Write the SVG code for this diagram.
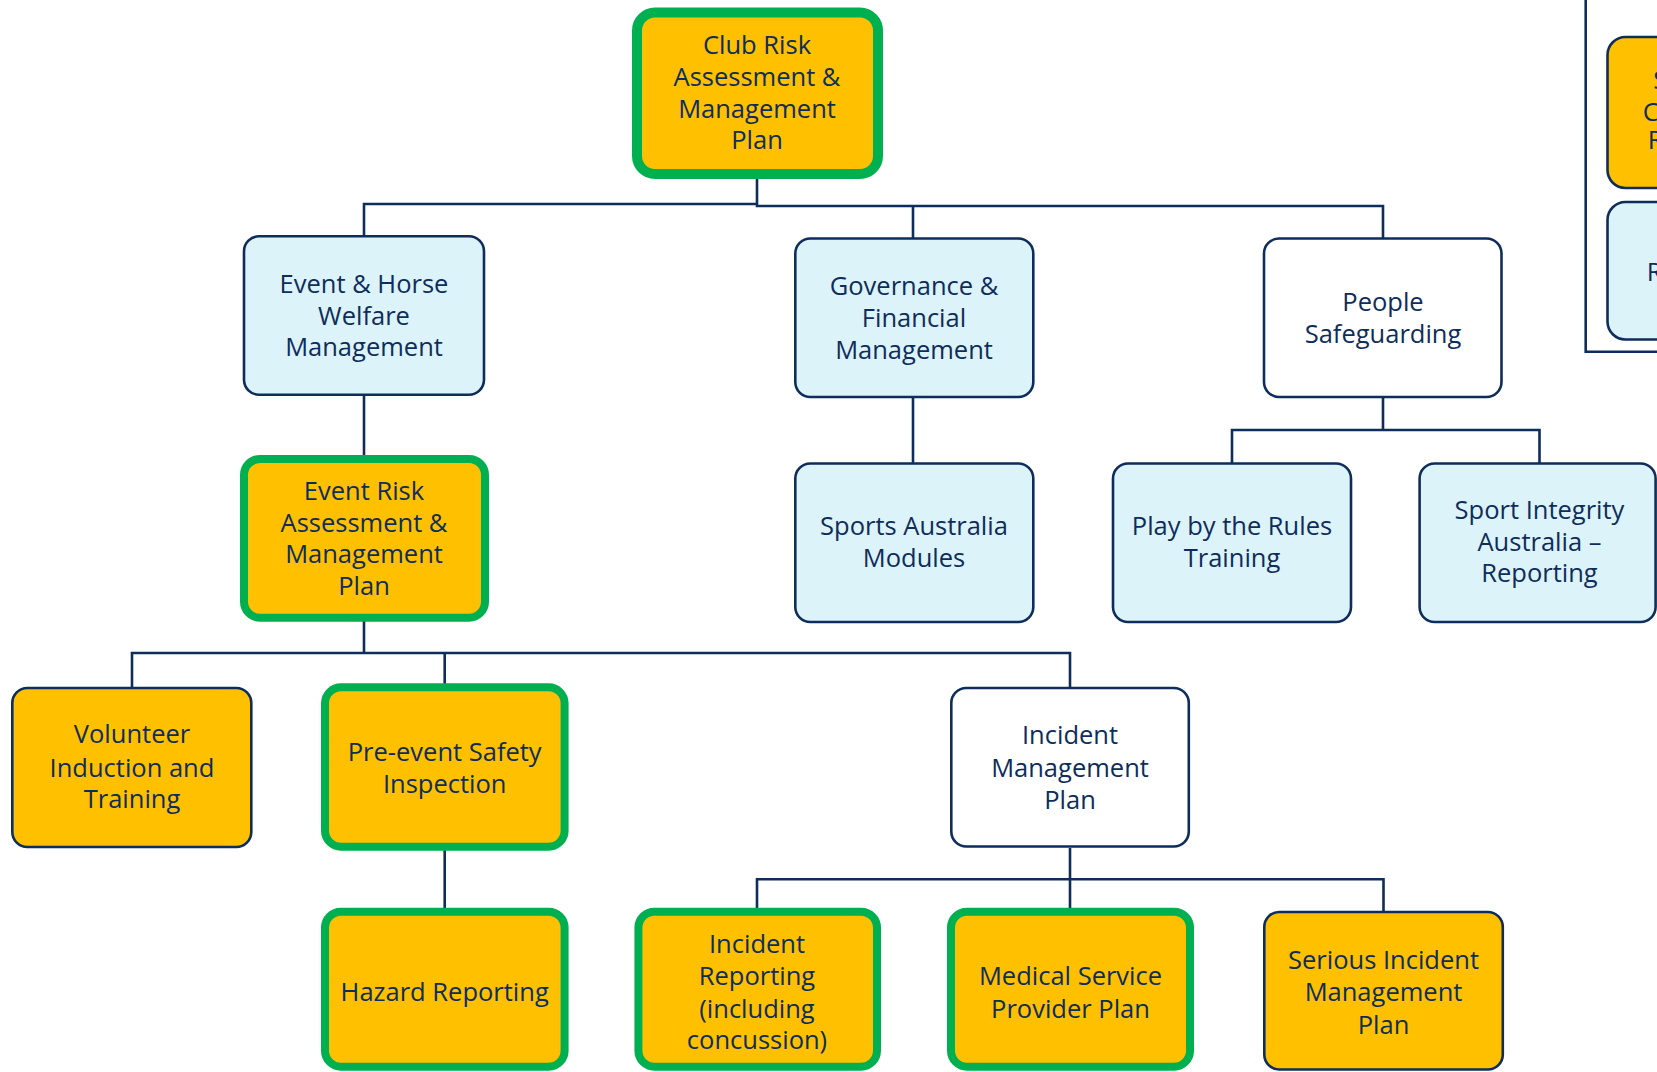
<svg xmlns="http://www.w3.org/2000/svg" width="1657" height="1072" viewBox="0 0 1657 1072">
  <style>
    .box { stroke: #0E2D5A; stroke-width: 2.6; }
    .key { stroke: #00B050; stroke-width: 8; }
    .top { stroke: #00B050; stroke-width: 10; }
    .amber { fill: #FFC000; }
    .sky { fill: #DDF3FA; }
    .plain { fill: #FFFFFF; }
    .lbl { font-family: "Open Sans", "Noto Sans", "Liberation Sans", sans-serif; font-size: 25.5px; fill: #0E2D5A; text-anchor: middle; }
    .wire { fill: none; stroke: #0E2D5A; stroke-width: 2.6; }
  </style>
  <rect width="1657" height="1072" fill="#FFFFFF"/>

  <!-- connectors -->
  <g id="connectors">
    <path class="wire" d="M364,236 V204 H757"/>
    <path class="wire" d="M757,178 V206 H1383 V238"/>
    <path class="wire" d="M913,206 V238"/>
    <path class="wire" d="M364,396 V456"/>
    <path class="wire" d="M913,398 V463"/>
    <path class="wire" d="M1383,398 V430 M1232,463 V430 H1539.5 V463"/>
    <path class="wire" d="M364,621 V653 M132,688 V653 H1070 V688 M444.7,653 V684"/>
    <path class="wire" d="M444.7,850 V908"/>
    <path class="wire" d="M1070,848 V879.3 M757,908 V879.3 H1383.5 V912 M1070,879.3 V908"/>
    <!-- frame of the neighbouring panel at the right edge -->
    <path class="wire" d="M1585.7,0 V351.7 H1660"/>
  </g>

  <g id="club-risk">
    <rect class="top amber" x="637" y="12.5" width="241" height="161.5" rx="18"/>
    <text class="lbl" x="757" y="54.3">Club Risk</text>
    <text class="lbl" x="757" y="86">Assessment &amp;</text>
    <text class="lbl" x="757" y="117.7">Management</text>
    <text class="lbl" x="757" y="149.3">Plan</text>
  </g>

  <g id="event-horse">
    <rect class="box sky" x="244" y="236.3" width="240" height="158.5" rx="15"/>
    <text class="lbl" x="364" y="292.7">Event &amp; Horse</text>
    <text class="lbl" x="364" y="324.5">Welfare</text>
    <text class="lbl" x="364" y="356.3">Management</text>
  </g>

  <g id="governance">
    <rect class="box sky" x="795.3" y="238.5" width="238" height="158.5" rx="15"/>
    <text class="lbl" x="914" y="294.5">Governance &amp;</text>
    <text class="lbl" x="914" y="327.2">Financial</text>
    <text class="lbl" x="914" y="358.8">Management</text>
  </g>

  <g id="people">
    <rect class="box plain" x="1264" y="238.5" width="237.5" height="158.5" rx="15"/>
    <text class="lbl" x="1383" y="310.5">People</text>
    <text class="lbl" x="1383" y="343">Safeguarding</text>
  </g>

  <g id="event-risk">
    <rect class="key amber" x="244" y="459" width="241" height="158.7" rx="16"/>
    <text class="lbl" x="364" y="499.5">Event Risk</text>
    <text class="lbl" x="364" y="531.5">Assessment &amp;</text>
    <text class="lbl" x="364" y="563.2">Management</text>
    <text class="lbl" x="364" y="594.8">Plan</text>
  </g>

  <g id="sports-australia">
    <rect class="box sky" x="795.3" y="463.5" width="238" height="158.5" rx="15"/>
    <text class="lbl" x="914" y="535">Sports Australia</text>
    <text class="lbl" x="914" y="566.7">Modules</text>
  </g>

  <g id="play-by-rules">
    <rect class="box sky" x="1113" y="463.5" width="238" height="158.5" rx="15"/>
    <text class="lbl" x="1232" y="535">Play by the Rules</text>
    <text class="lbl" x="1232" y="566.7">Training</text>
  </g>

  <g id="sport-integrity">
    <rect class="box sky" x="1419.6" y="463.5" width="236" height="158.5" rx="15"/>
    <text class="lbl" x="1539.5" y="518.5">Sport Integrity</text>
    <text class="lbl" x="1539.5" y="550.5">Australia –</text>
    <text class="lbl" x="1539.5" y="582">Reporting</text>
  </g>

  <g id="volunteer">
    <rect class="box amber" x="12.3" y="688" width="239" height="159" rx="15"/>
    <text class="lbl" x="132" y="743.3">Volunteer</text>
    <text class="lbl" x="132" y="776.5">Induction and</text>
    <text class="lbl" x="132" y="808.2">Training</text>
  </g>

  <g id="pre-event">
    <rect class="key amber" x="325" y="687.3" width="239.6" height="159.4" rx="16"/>
    <text class="lbl" x="444.7" y="760.5">Pre-event Safety</text>
    <text class="lbl" x="444.7" y="793.2">Inspection</text>
  </g>

  <g id="incident-management">
    <rect class="box plain" x="951.3" y="688" width="237.5" height="158.5" rx="15"/>
    <text class="lbl" x="1070" y="744">Incident</text>
    <text class="lbl" x="1070" y="777.3">Management</text>
    <text class="lbl" x="1070" y="808.7">Plan</text>
  </g>

  <g id="hazard">
    <rect class="key amber" x="325" y="911.7" width="239.6" height="155" rx="16"/>
    <text class="lbl" x="444.7" y="1001">Hazard Reporting</text>
  </g>

  <g id="incident-reporting">
    <rect class="key amber" x="638.4" y="911.7" width="238.6" height="155" rx="16"/>
    <text class="lbl" x="757" y="952.7">Incident</text>
    <text class="lbl" x="757" y="984.5">Reporting</text>
    <text class="lbl" x="757" y="1017.5">(including</text>
    <text class="lbl" x="757" y="1049.3">concussion)</text>
  </g>

  <g id="medical">
    <rect class="key amber" x="951" y="911.7" width="239" height="155" rx="16"/>
    <text class="lbl" x="1070.5" y="984.5">Medical Service</text>
    <text class="lbl" x="1070.5" y="1017.5">Provider Plan</text>
  </g>

  <g id="serious-incident">
    <rect class="box amber" x="1264.3" y="912" width="238.5" height="157.5" rx="15"/>
    <text class="lbl" x="1383.5" y="969">Serious Incident</text>
    <text class="lbl" x="1383.5" y="1001.2">Management</text>
    <text class="lbl" x="1383.5" y="1033.7">Plan</text>
  </g>

  <!-- neighbouring panel, cut by the right edge -->
  <g id="side-amber">
    <rect class="box amber" x="1607.5" y="37" width="120" height="151" rx="18"/>
    <text class="lbl" x="1653.3" y="89" style="text-anchor:start">S</text>
    <text class="lbl" x="1642.7" y="121" style="text-anchor:start">C</text>
    <text class="lbl" x="1647.7" y="149" style="text-anchor:start">R</text>
  </g>
  <g id="side-sky">
    <rect class="box sky" x="1607.5" y="202" width="120" height="137.5" rx="18"/>
    <text class="lbl" x="1646.7" y="281" style="text-anchor:start">R</text>
  </g>
</svg>
